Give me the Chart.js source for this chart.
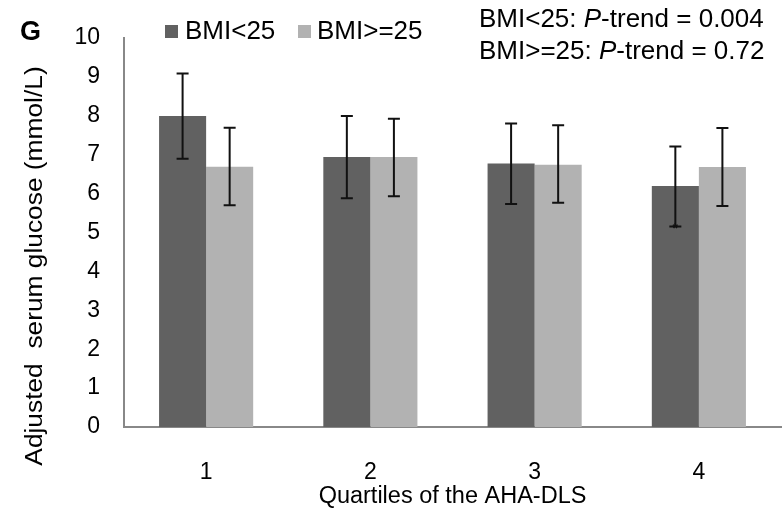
<!DOCTYPE html>
<html lang="en">
<head>
  <meta charset="UTF-8">
  <title>Adjusted serum glucose by AHA-DLS quartile</title>
  <script src="https://cdn.jsdelivr.net/npm/chart.js"></script>
  <style>
    body { margin: 0; background: #fff; }
    #wrap { width: 783px; height: 517px; }
  </style>
</head>
<body>
<div id="wrap"><canvas id="glucoseChart"></canvas></div>
<script>
  const quartiles = ['1', '2', '3', '4'];
  const lowBmi = [7.99, 6.94, 6.77, 6.19];
  const lowBmiErrLow = [6.89, 5.88, 5.73, 5.15];
  const lowBmiErrHigh = [9.08, 7.99, 7.80, 7.21];
  const highBmi = [6.69, 6.94, 6.74, 6.68];
  const highBmiErrLow = [5.70, 5.93, 5.76, 5.68];
  const highBmiErrHigh = [7.69, 7.92, 7.75, 7.68];
  const yTicks = [0, 1, 2, 3, 4, 5, 6, 7, 8, 9, 10];

  const FONT = "'Liberation Sans', Arial, sans-serif";
  const darkGrey = '#616161';
  const lightGrey = '#b2b2b2';

  const errorBars = {
    id: 'errorBars',
    afterDatasetsDraw(chart) {
      const ctx = chart.ctx;
      const y = chart.scales.y;
      const errs = [[lowBmiErrLow, lowBmiErrHigh], [highBmiErrLow, highBmiErrHigh]];
      ctx.save();
      ctx.strokeStyle = '#111';
      ctx.lineWidth = 2;
      errs.forEach((pair, di) => {
        chart.getDatasetMeta(di).data.forEach((bar, i) => {
          const top = y.getPixelForValue(pair[1][i]);
          const bot = y.getPixelForValue(pair[0][i]);
          ctx.beginPath();
          ctx.moveTo(bar.x, top); ctx.lineTo(bar.x, bot);
          ctx.moveTo(bar.x - 6, top); ctx.lineTo(bar.x + 6, top);
          ctx.moveTo(bar.x - 6, bot); ctx.lineTo(bar.x + 6, bot);
          ctx.stroke();
        });
      });
      // asterisk at the lower cap of quartile 4, BMI<25
      const b4 = chart.getDatasetMeta(0).data[3];
      ctx.fillStyle = '#111';
      ctx.font = 'bold 14px ' + FONT;
      ctx.textAlign = 'center';
      ctx.textBaseline = 'middle';
      ctx.fillText('*', b4.x, y.getPixelForValue(lowBmiErrLow[3]) + 3);
      ctx.restore();
    }
  };

  const annotations = {
    id: 'annotations',
    afterDraw(chart) {
      const ctx = chart.ctx;
      const area = chart.chartArea;
      ctx.save();
      ctx.fillStyle = '#000';
      ctx.textBaseline = 'middle';

      // panel letter
      ctx.font = 'bold 27px ' + FONT;
      ctx.textAlign = 'left';
      ctx.fillText('G', 20, 33);

      // legend
      ctx.font = '26px ' + FONT;
      ctx.fillStyle = darkGrey;
      ctx.fillRect(165, 25, 13, 13);
      ctx.fillStyle = '#000';
      ctx.fillText('BMI<25', 185, 32);
      ctx.fillStyle = lightGrey;
      ctx.fillRect(298, 25, 13, 13);
      ctx.fillStyle = '#000';
      ctx.fillText('BMI>=25', 317, 32);

      // trend p-values
      const lines = [['BMI<25: ', '-trend = 0.004', 20], ['BMI>=25: ', '-trend = 0.72', 52]];
      lines.forEach(([a, b, yy]) => {
        let x = 479;
        ctx.font = '26px ' + FONT;
        ctx.fillText(a, x, yy);
        x += ctx.measureText(a).width;
        ctx.font = 'italic 26px ' + FONT;
        ctx.fillText('P', x, yy);
        x += ctx.measureText('P').width;
        ctx.font = '26px ' + FONT;
        ctx.fillText(b, x, yy);
      });

      // axis titles
      ctx.font = '23.5px ' + FONT;
      ctx.textAlign = 'center';
      ctx.fillText('Quartiles of the AHA-DLS', (area.left + area.right) / 2, 497);
      ctx.translate(36, 266);
      ctx.rotate(-Math.PI / 2);
      ctx.scale(1.12, 1);
      ctx.fillText('Adjusted  serum glucose (mmol/L)', 0, 0);
      ctx.restore();
    }
  };

  const chart = new Chart(document.getElementById('glucoseChart'), {
    type: 'bar',
    data: {
      labels: quartiles,
      datasets: [
        { label: 'BMI<25', data: lowBmi, backgroundColor: darkGrey },
        { label: 'BMI>=25', data: highBmi, backgroundColor: lightGrey }
      ]
    },
    options: {
      responsive: true,
      maintainAspectRatio: false,
      animation: false,
      layout: { padding: { top: 33, right: 2, left: 0, bottom: 0 } },
      categoryPercentage: 0.573,
      barPercentage: 1.0,
      plugins: { legend: { display: false }, tooltip: { enabled: false } },
      scales: {
        x: {
          grid: { display: false, drawTicks: false },
          border: { color: '#888', width: 2 },
          ticks: { color: '#000', font: { family: FONT, size: 23 }, padding: 32 },
          afterFit(scale) { scale.height = 90; }
        },
        y: {
          min: 0,
          max: 10,
          grid: { display: false, drawTicks: false },
          border: { color: '#888', width: 2 },
          afterBuildTicks(scale) { scale.ticks = yTicks.map(v => ({ value: v })); },
          ticks: { color: '#000', font: { family: FONT, size: 23 }, padding: 24 },
          afterFit(scale) { scale.width = 124; }
        }
      }
    },
    plugins: [errorBars, annotations]
  });
</script>
</body>
</html>
